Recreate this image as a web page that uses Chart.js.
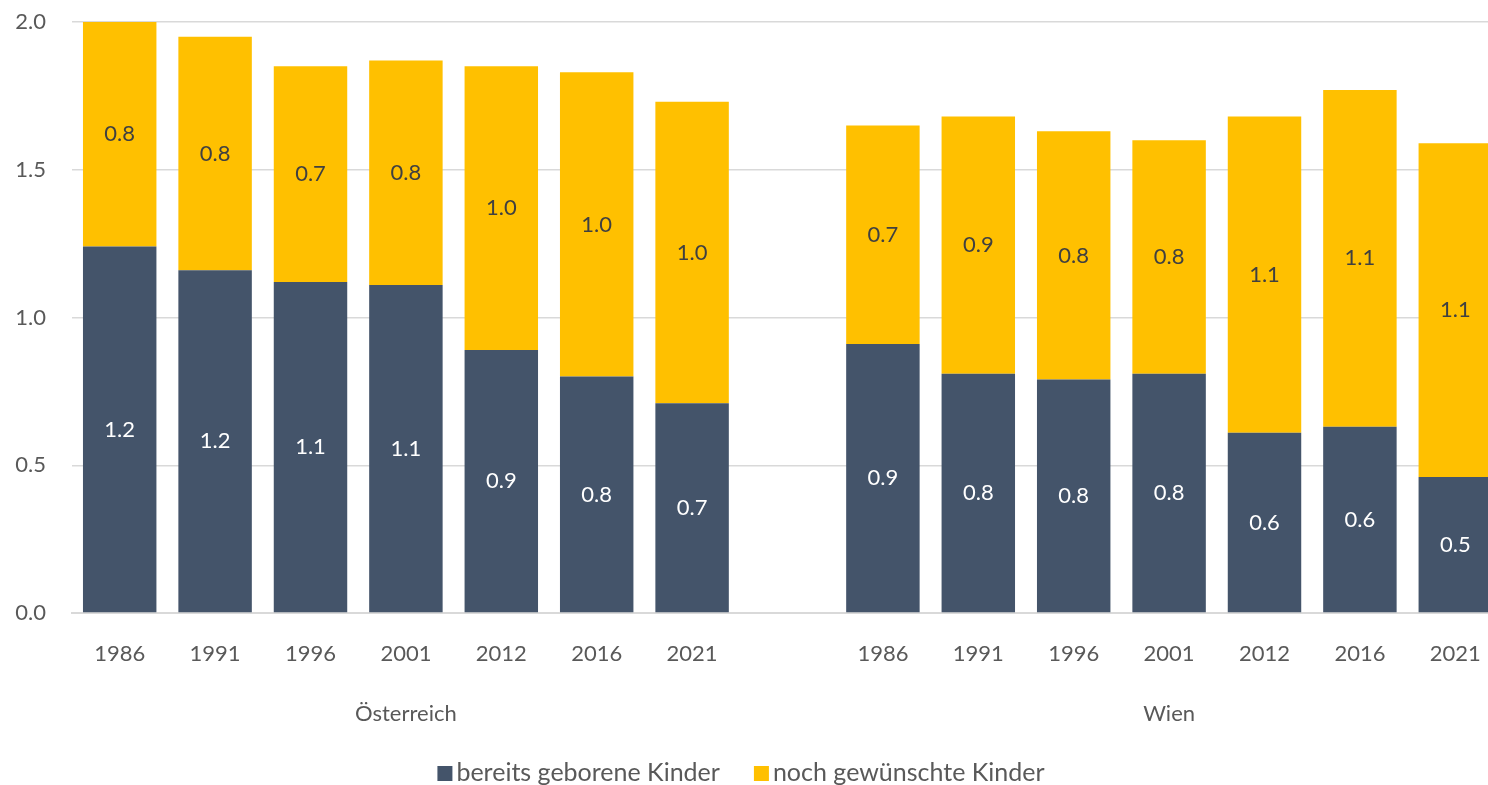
<!DOCTYPE html>
<html><head><meta charset="utf-8">
<script src="https://cdn.jsdelivr.net/npm/chart.js@4/dist/chart.umd.min.js"></script>
<style>html,body{margin:0;padding:0;background:#fff;overflow:hidden}#wrap{width:1488px;height:785px;overflow:hidden}</style>
</head><body><div id="wrap"><canvas id="c" width="1503" height="785"></canvas></div>
<script>
const years = ["1986","1991","1996","2001","2012","2016","2021","","1986","1991","1996","2001","2012","2016","2021"];
const groupLabels = ["","","","Österreich","","","","","","","","Wien","","",""];
const geboren = [1.24,1.16,1.12,1.11,0.89,0.80,0.71,null,0.91,0.81,0.79,0.81,0.61,0.63,0.46];
const gewuenscht = [0.76,0.79,0.73,0.76,0.96,1.03,1.02,null,0.74,0.87,0.84,0.79,1.07,1.14,1.13];
const yTicks = [0,0.5,1.0,1.5,2.0];
const seriesNames = ["bereits geborene Kinder","noch gewünschte Kinder"];

const FONT = "Lato, 'Liberation Sans', sans-serif";
const TXT = "#595959";

const labelPlugin = {
  id:'barLabels',
  afterDatasetsDraw(chart){
    const ctx = chart.ctx;
    chart.data.datasets.forEach((ds,di)=>{
      const meta = chart.getDatasetMeta(di);
      meta.data.forEach((bar,i)=>{
        const v = ds.data[i];
        if(v==null) return;
        const p = bar.getProps(['x','y','base'],true);
        ctx.save();
        ctx.font = "22px " + FONT;
        ctx.fillStyle = di===0 ? "#ffffff" : "#404040";
        ctx.textAlign = "center";
        ctx.textBaseline = "middle";
        ctx.fillText(v.toFixed(1), p.x, (p.y+p.base)/2);
        ctx.restore();
      });
    });
  }
};

const legendPlugin = {
  id:'bottomLegend',
  afterDraw(chart){
    const ctx = chart.ctx;
    ctx.save();
    ctx.font = "25px " + FONT;
    ctx.textBaseline = "middle";
    ctx.textAlign = "left";
    const box = 15, gapText = 4, gapItem = 34, cy = 773, cx = 741;
    const items = chart.data.datasets.map(ds=>({t:ds.label, c:ds.backgroundColor, w:ctx.measureText(ds.label).width}));
    let total = 0;
    items.forEach((it,i)=>{ total += box + gapText + it.w + (i<items.length-1?gapItem:0); });
    let x = cx - total/2;
    items.forEach(it=>{
      ctx.fillStyle = it.c;
      ctx.fillRect(x, cy-7, box, box);
      ctx.fillStyle = TXT;
      ctx.fillText(it.t, x+box+gapText, cy);
      x += box + gapText + it.w + gapItem;
    });
    ctx.restore();
  }
};

function noPad(s){ s.paddingLeft = 0; s.paddingRight = 0; }

new Chart(document.getElementById('c'),{
  type:'bar',
  data:{
    labels: years,
    datasets:[
      {label:seriesNames[0], data:geboren, backgroundColor:"#44546A", borderWidth:0, xAxisID:'x', barPercentage:0.77, categoryPercentage:1},
      {label:seriesNames[1], data:gewuenscht, backgroundColor:"#FFC000", borderWidth:0, xAxisID:'x', barPercentage:0.77, categoryPercentage:1}
    ]
  },
  options:{
    responsive:false, animation:false,
    layout:{padding:{top:22,right:0,left:0,bottom:55}},
    plugins:{
      legend:{display:false},
      tooltip:{enabled:false}
    },
    scales:{
      x:{stacked:true, position:'bottom',
        grid:{display:false, drawTicks:false},
        border:{display:true, color:"#d9d9d9", width:2},
        ticks:{font:{family:FONT,size:22}, color:TXT, padding:28, maxRotation:0, autoSkip:false},
        afterFit(s){s.height=60; noPad(s);}
      },
      x2:{type:'category', labels:groupLabels, position:'bottom', offset:true,
        grid:{display:false, drawTicks:false}, border:{display:false},
        ticks:{font:{family:FONT,size:22}, color:TXT, padding:28, maxRotation:0, autoSkip:false},
        afterFit(s){s.height=57; noPad(s);}
      },
      y:{stacked:true, min:0, max:2.0,
        afterBuildTicks(s){s.ticks = yTicks.map(v=>({value:v}));},
        grid:{color:"#d9d9d9", lineWidth:1.5, drawTicks:false},
        border:{display:false},
        ticks:{font:{family:FONT,size:22}, color:TXT, padding:26, callback:v=>Number(v).toFixed(1)},
        afterFit(s){s.width=72; s.paddingTop=0; s.paddingBottom=0;}
      }
    }
  },
  plugins:[labelPlugin, legendPlugin]
});
</script></body></html>
